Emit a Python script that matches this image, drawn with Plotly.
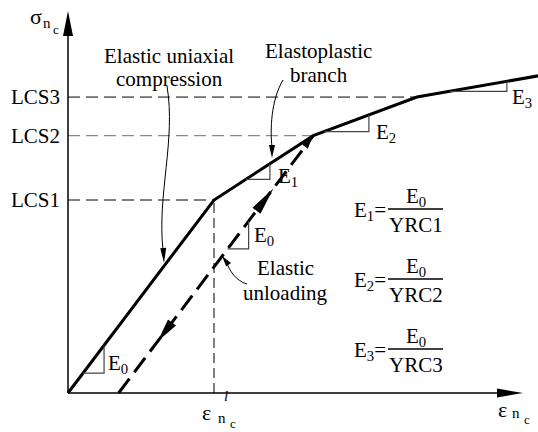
import plotly.graph_objects as go

# ---- canvas / scale -------------------------------------------------------
W, H = 538, 432
ORIGIN_PX = (68, 393)            # pixel position of (strain=0, stress=0)
PX_PER_STRAIN = 146.0
PX_PER_STRESS = 193.0 / 30.0

# ---- model data -----------------------------------------------------------
strain_pts = [0.0, 1.0, 1.68, 2.39, 3.22]      # kinks of the multilinear law
stress_pts = [0.0, 30.0, 40.0, 46.0, 49.3]
level_labels = ["LCS1", "LCS2", "LCS3"]
level_colors = ["black", "#8a8a8a", "black"]
yrc_labels = ["YRC1", "YRC2", "YRC3"]

E0 = stress_pts[1] / strain_pts[1]
unload_strain = strain_pts[2]
unload_stress = stress_pts[2]
residual_strain = unload_strain - unload_stress / E0

FONT = "Liberation Serif"
FS = 21


def xd(px):
    return (px - ORIGIN_PX[0]) / PX_PER_STRAIN


def yd(py):
    return (ORIGIN_PX[1] - py) / PX_PER_STRESS


def xp(x):
    return ORIGIN_PX[0] + x * PX_PER_STRAIN


def yp(y):
    return ORIGIN_PX[1] - y * PX_PER_STRESS


fig = go.Figure()

# reference (dashed) levels
for i, (lab, col) in enumerate(zip(level_labels, level_colors)):
    fig.add_trace(go.Scatter(
        x=[0, strain_pts[i + 1]], y=[stress_pts[i + 1]] * 2, mode="lines",
        line=dict(color=col, width=1.3 if col != "black" else 1, dash="12px,6px"),
        hoverinfo="skip"))
# yield strain marker
fig.add_trace(go.Scatter(
    x=[strain_pts[1]] * 2, y=[0, stress_pts[1]], mode="lines",
    line=dict(color="black", width=1, dash="10px,5px"), hoverinfo="skip"))

# loading curve
fig.add_trace(go.Scatter(x=strain_pts, y=stress_pts, mode="lines",
                         line=dict(color="black", width=3), hoverinfo="skip"))
# elastic unloading
fig.add_trace(go.Scatter(x=[residual_strain, unload_strain], y=[0, unload_stress],
                         mode="lines",
                         line=dict(color="black", width=3, dash="18px,8px"),
                         hoverinfo="skip"))


def path_px(pts, close=False):
    s = "M %.5f %.5f" % (xd(pts[0][0]), yd(pts[0][1]))
    for p in pts[1:]:
        s += " L %.5f %.5f" % (xd(p[0]), yd(p[1]))
    return s + (" Z" if close else "")


def head(tip, direction, length, half):
    dx, dy = direction
    n = (dx * dx + dy * dy) ** 0.5
    ux, uy = dx / n, dy / n
    bx, by = tip[0] - ux * length, tip[1] - uy * length
    nx, ny = -uy, ux
    pts = [tip, (bx + nx * half, by + ny * half), (bx - nx * half, by - ny * half)]
    fig.add_shape(type="path", path=path_px(pts, True), xref="x", yref="y",
                  fillcolor="black", line=dict(width=0))


def curve(p0, c1, c2, p1):
    s = "M %.5f %.5f C %.5f %.5f, %.5f %.5f, %.5f %.5f" % (
        xd(p0[0]), yd(p0[1]), xd(c1[0]), yd(c1[1]),
        xd(c2[0]), yd(c2[1]), xd(p1[0]), yd(p1[1]))
    fig.add_shape(type="path", path=s, xref="x", yref="y",
                  line=dict(color="black", width=1))


# axes with arrow heads
ox, oy = ORIGIN_PX
x_tip, y_tip = 523, 11
fig.add_shape(type="line", xref="x", yref="y", x0=0, y0=0, x1=xd(x_tip - 20), y1=0,
              line=dict(color="black", width=1.5))
fig.add_shape(type="line", xref="x", yref="y", x0=0, y0=0, x1=0, y1=yd(y_tip + 20),
              line=dict(color="black", width=1.5))
head((x_tip, oy), (1, 0), 26, 4.5)
head((ox, y_tip), (0, -1), 25, 5)

# arrow heads along the unloading path
ux0, uy0 = xp(residual_strain), yp(0)
ux1, uy1 = xp(unload_strain), yp(unload_stress)


def along(t):
    return (ux0 + (ux1 - ux0) * t, uy0 + (uy1 - uy0) * t)


up_dir = (ux1 - ux0, uy1 - uy0)
down_dir = (ux0 - ux1, uy0 - uy1)
head(along(0.795), up_dir, 28, 5)
head(along(0.20), down_dir, 24, 5)
head(along(0.995), up_dir, 12, 3.5)


# slope triangles drawn under each branch
def tri(x_start, run, slope, y_at):
    y0 = y_at(x_start)
    x1 = x_start + run
    y1 = y0 + slope * run
    fig.add_shape(type="path", xref="x", yref="y",
                  path="M %.5f %.5f L %.5f %.5f L %.5f %.5f" % (x_start, y0, x1, y0, x1, y1),
                  line=dict(color="#444", width=1.2))


def seg_fun(i):
    s = (stress_pts[i + 1] - stress_pts[i]) / (strain_pts[i + 1] - strain_pts[i])
    return s, (lambda x: stress_pts[i] + s * (x - strain_pts[i]))


s0, f0 = seg_fun(0)
s1, f1 = seg_fun(1)
s2, f2 = seg_fun(2)
s3, f3 = seg_fun(3)
tri(0.103, 0.144, s0, f0)
tri(xd(227.6), 0.144, E0, lambda x: E0 * (x - residual_strain))
tri(1.219, 0.164, s1, f1)
tri(1.753, 0.308, s2, f2)
tri(2.616, 0.39, s3, f3)

# leader lines
curve((167, 86), (176, 140), (157, 195), (163, 250))
head((164, 263), (0.05, 1), 15, 3)
curve((283, 80), (271, 100), (270, 130), (272, 147))
head((272, 158), (0, 1), 13, 3)
curve((247, 284), (236, 281), (229, 270), (227, 263))
head((222, 256), (-0.6, -0.8), 11, 3)


def txt(text, px, py, size=FS, xanchor="center", yanchor="middle"):
    fig.add_annotation(text=text, x=xd(px), y=yd(py), xref="x", yref="y",
                       showarrow=False, xanchor=xanchor, yanchor=yanchor,
                       font=dict(family=FONT, size=size, color="black"))


# level labels
for i, lab in enumerate(level_labels):
    txt(lab, 62, yp(stress_pts[i + 1]), xanchor="right")

# axis titles
txt("σ", 36, 16, size=22)
txt("n", 47, 23, size=15)
txt("c", 56, 29, size=13)
txt("ε", 206, 412, size=22)
txt("<i>l</i>", 226, 396, size=15)
txt("n", 222, 418, size=15)
txt("c", 233, 423, size=13)
txt("ε", 502, 409, size=22)
txt("n", 516, 413, size=15)
txt("c", 527, 419, size=13)

# descriptive labels
txt("Elastic uniaxial", 169, 56)
txt("compression", 169, 79)
txt("Elastoplastic", 318, 51)
txt("branch", 319, 75)
txt("Elastic", 285, 268)
txt("unloading", 285, 293)

# slope labels
txt("E<sub>0</sub>", 106, 364, xanchor="left")
txt("E<sub>0</sub>", 252, 236, xanchor="left")
txt("E<sub>1</sub>", 276, 177, xanchor="left")
txt("E<sub>2</sub>", 374, 133, xanchor="left")
txt("E<sub>3</sub>", 510, 98, xanchor="left")

# stiffness ratios
for k, (bar_y, yrc) in enumerate(zip([209, 279, 349], yrc_labels)):
    txt("E<sub>%d</sub>=" % (k + 1), 388, bar_y + 2, xanchor="right")
    txt("E<sub>0</sub>", 416, bar_y - 12)
    txt(yrc, 416, bar_y + 16)
    fig.add_shape(type="line", xref="x", yref="y", x0=xd(388), x1=xd(443),
                  y0=yd(bar_y), y1=yd(bar_y), line=dict(color="black", width=1.5))

fig.update_layout(
    width=W, height=H, margin=dict(l=0, r=0, t=0, b=0),
    paper_bgcolor="white", plot_bgcolor="white", showlegend=False,
    font=dict(family=FONT),
    xaxis=dict(range=[xd(0), xd(W)], visible=False, fixedrange=True),
    yaxis=dict(range=[yd(H), yd(0)], visible=False, fixedrange=True),
)

fig.write_html("out.html")
